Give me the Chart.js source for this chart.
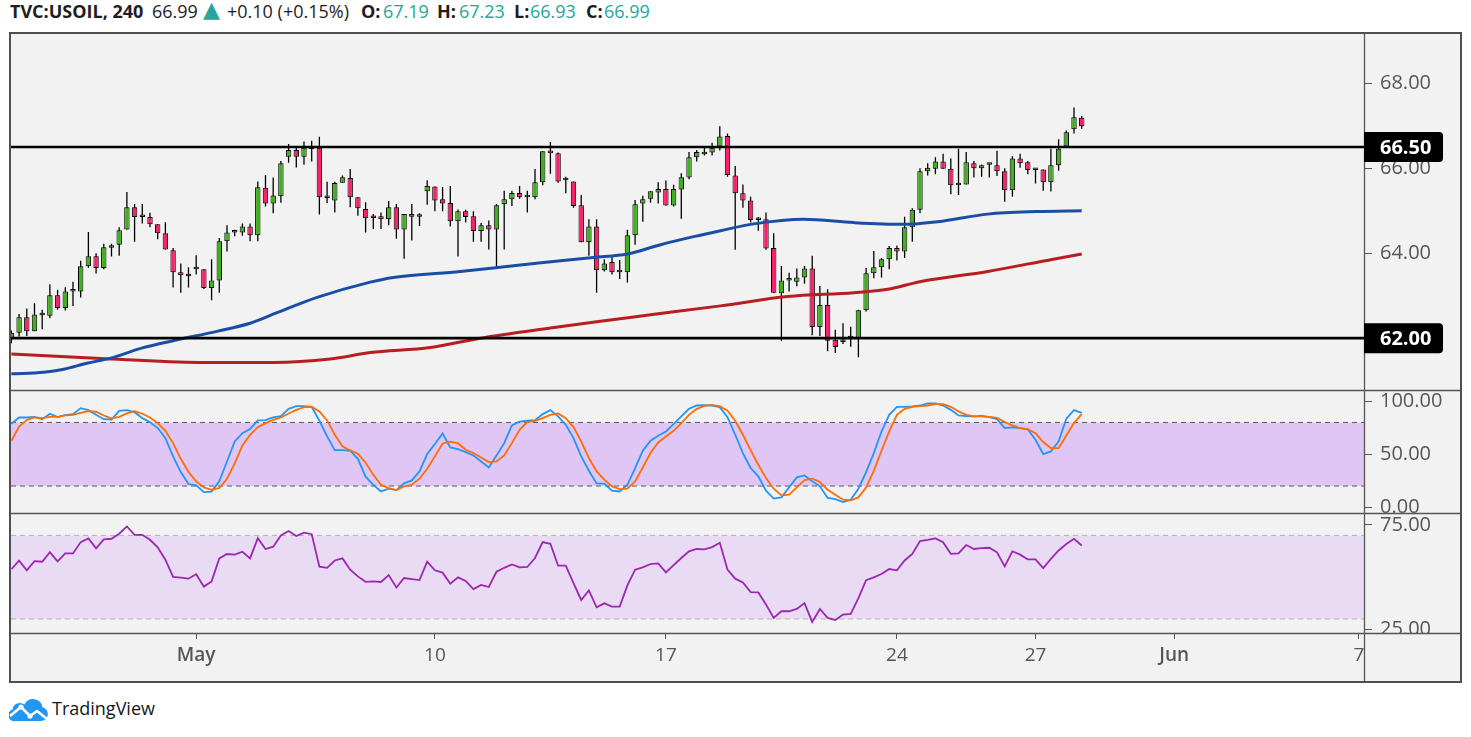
<!DOCTYPE html>
<html><head><meta charset="utf-8">
<script src="https://cdn.jsdelivr.net/npm/chart.js@4.4.1/dist/chart.umd.min.js"></script>
<style>
html,body{margin:0;padding:0;background:#fff;}
body{width:1471px;height:737px;position:relative;overflow:hidden;font-family:'Open Sans',sans-serif;}
.h{position:absolute;top:-1px;font-size:18px;line-height:24px;white-space:nowrap;color:#1e1e1e;}
.b{font-weight:700;}
.t{color:#26a69a;}
#frame{position:absolute;left:9px;top:32px;width:1449px;height:647px;border:2px solid #4f4f4f;background:#f2f2f2;}
#c{display:block;}
#logo{position:absolute;left:9px;top:697px;width:160px;height:26px;}
</style></head><body>
<div class="h b" style="left:10px">TVC:USOIL, 240</div>
<div class="h" style="left:152px">66.99</div>
<div class="h t" style="left:203px;top:-3px;font-size:22px;line-height:26px;font-family:'DejaVu Sans',sans-serif">▲</div>
<div class="h" style="left:227px">+0.10 (+0.15%)</div>
<div class="h b" style="left:361px">O:</div><div class="h t" style="left:383px">67.19</div>
<div class="h b" style="left:437px">H:</div><div class="h t" style="left:459px">67.23</div>
<div class="h b" style="left:514px">L:</div><div class="h t" style="left:530px">66.93</div>
<div class="h b" style="left:586px">C:</div><div class="h t" style="left:604px">66.99</div>
<div id="frame"><canvas id="c" width="1449" height="647"></canvas></div>
<div id="logo">
<svg width="40" height="24" viewBox="0 0 40 24" style="position:absolute;left:0;top:1px">
<path d="M7 23 H32 a7 7 0 0 0 1.5-13.8 A9.5 9.5 0 0 0 15.5 6.5 A7.5 7.5 0 0 0 3.5 11.5 A6 6 0 0 0 7 23 Z" fill="#2196f3"/>
<polyline points="1,18 12,9 21,18 28,13 38,21" fill="none" stroke="#fff" stroke-width="2.6" stroke-linejoin="round"/>
<circle cx="12" cy="9" r="2.6" fill="#fff"/><circle cx="21" cy="18" r="2.6" fill="#fff"/>
</svg>
<span style="position:absolute;left:43px;top:-2px;font-size:18px;line-height:26px;color:#131722;">TradingView</span>
</div>
<script>
// ---- data (4h candles, index 0..139) ----
const opens = [61.98,62.13,62.49,62.16,62.54,62.53,63.01,62.71,63.10,63.10,63.69,63.93,63.65,64.13,64.20,64.56,65.08,64.85,64.85,64.68,
64.47,64.07,63.55,63.47,63.62,63.62,63.18,63.36,64.28,64.49,64.49,64.63,64.42,65.54,65.17,65.34,66.27,66.43,66.27,66.46,
66.48,65.30,65.24,65.66,65.77,65.32,65.04,64.84,64.87,64.80,65.08,64.56,64.92,64.86,65.46,65.57,65.27,65.18,64.75,64.99,
64.87,64.52,64.66,64.56,65.15,65.27,65.42,65.32,65.32,65.67,66.42,66.35,65.72,65.69,65.13,64.26,64.63,63.60,63.79,63.55,
63.55,64.42,65.17,65.28,65.43,65.51,65.12,65.50,65.78,66.26,66.33,66.37,66.51,66.76,65.83,65.41,65.24,64.78,64.80,64.12,
63.06,63.36,63.33,63.43,63.64,62.26,62.78,61.96,61.91,62.00,62.01,62.66,63.53,63.67,63.86,64.12,64.04,64.61,65.02,65.93,
65.99,66.16,65.99,65.60,65.62,66.12,66.00,66.08,66.07,65.93,65.48,66.23,66.14,65.96,65.97,65.67,66.07,66.51,66.92,67.19];
const highs = [62.18,62.57,62.70,62.82,62.67,63.27,63.14,63.20,63.33,63.82,64.50,64.00,64.22,64.22,64.61,65.44,65.16,65.16,64.95,64.68,
64.73,64.12,63.76,63.67,63.95,63.62,63.86,64.36,64.66,64.55,64.70,64.70,65.69,65.84,65.78,66.17,66.57,66.51,66.63,66.65,
66.74,65.68,65.68,65.83,65.98,65.32,65.20,64.92,64.96,65.23,65.16,64.92,65.16,64.94,65.72,65.57,65.56,65.58,65.03,65.02,
64.99,64.71,64.77,65.16,65.47,65.47,65.58,65.47,65.98,66.40,66.62,66.37,65.80,65.69,65.37,64.80,64.80,63.86,63.91,63.84,
64.55,65.25,65.35,65.46,65.67,65.71,65.61,65.88,66.38,66.43,66.48,66.60,66.99,66.82,66.05,65.62,65.33,64.85,64.96,64.47,
63.70,63.54,63.64,63.70,63.94,63.23,63.15,62.20,62.35,62.27,62.67,63.65,64.05,63.89,64.17,64.18,64.86,65.06,66.00,66.12,
66.26,66.34,66.23,66.46,66.38,66.17,66.09,66.12,66.41,66.00,66.28,66.34,66.17,66.00,65.97,66.46,66.68,66.89,67.43,67.23];
const lows = [61.88,62.04,62.05,62.16,62.21,62.47,62.67,62.65,62.76,62.96,63.66,63.52,63.62,63.92,63.94,64.56,64.27,64.70,64.61,64.33,
64.09,63.19,63.07,63.19,63.50,63.16,62.89,63.07,64.04,64.40,64.41,64.28,64.28,65.10,64.94,65.19,66.13,66.02,66.08,66.16,
64.91,65.18,64.96,65.66,65.08,64.88,64.49,64.57,64.57,64.66,64.34,63.87,64.30,64.64,65.14,64.99,64.99,64.63,63.92,64.72,
64.27,64.27,64.09,63.67,64.09,65.11,65.28,64.96,65.27,65.60,65.87,65.66,65.41,65.07,64.26,63.94,63.07,63.57,63.50,63.39,
63.31,64.20,64.74,65.19,65.17,65.12,65.10,64.81,65.74,66.16,66.30,66.30,66.42,65.80,64.08,65.07,64.72,64.53,64.08,63.06,
61.94,63.10,63.22,63.28,62.07,62.05,61.69,61.65,61.86,61.80,61.55,62.63,63.41,63.43,63.62,63.83,63.89,64.27,64.94,65.83,
65.86,65.99,65.39,65.37,65.62,65.78,65.80,65.78,65.82,65.21,65.33,66.01,65.86,65.64,65.47,65.45,65.94,66.51,66.82,66.93];
const closes = [62.13,62.49,62.16,62.56,62.56,63.01,62.71,63.10,63.11,63.69,63.93,63.65,64.14,64.19,64.54,65.08,64.85,64.86,64.68,64.47,
64.09,63.55,63.48,63.46,63.63,63.18,63.36,64.28,64.49,64.50,64.63,64.42,65.55,65.17,65.36,66.12,66.43,66.27,66.48,66.45,
65.32,65.31,65.65,65.79,65.32,65.06,64.82,64.83,64.80,65.08,64.56,64.92,64.86,64.87,65.58,65.24,65.17,64.75,64.99,64.85,
64.52,64.66,64.56,65.13,65.27,65.42,65.32,65.33,65.67,66.40,66.35,65.69,65.73,65.11,64.26,64.63,63.60,63.76,63.55,63.56,
64.42,65.15,65.27,65.46,65.51,65.12,65.51,65.79,66.26,66.38,66.38,66.48,66.75,65.84,65.41,65.24,64.78,64.79,64.11,63.07,
63.36,63.37,63.43,63.64,62.26,62.78,61.94,61.79,61.97,62.01,62.66,63.53,63.67,63.86,64.12,64.04,64.61,65.02,65.93,66.01,
66.16,65.99,65.60,65.61,66.14,66.00,66.07,66.09,65.93,65.48,66.23,66.12,65.96,65.97,65.67,66.07,66.46,66.85,67.20,66.99];

// Stochastic %K / %D
const stochK = [78.7,84.7,84.7,85.3,83.1,88.2,85.0,86.9,87.9,93.5,91.6,87.2,83.1,82.8,91.0,91.6,89.7,84.1,80.3,74.7,
65.2,48.0,33.2,21.9,20.6,14.3,14.7,24.4,43.2,62.1,69.9,73.7,81.9,82.2,84.7,86.0,92.9,95.4,95.4,94.8,
81.6,66.8,53.9,53.9,53.3,45.7,28.8,21.2,14.9,17.5,16.2,22.5,25.3,33.8,50.2,59.6,69.6,56.4,54.8,52.0,
48.9,43.2,37.5,48.9,60.5,77.2,80.9,81.6,82.2,87.9,91.6,85.7,77.8,65.2,48.0,34.4,22.5,22.2,15.6,14.9,
21.2,37.0,53.3,62.7,67.4,71.5,78.4,85.7,92.9,96.0,96.3,96.0,94.5,85.0,68.4,51.1,37.0,29.1,15.6,8.1,
9.3,18.7,28.2,30.0,24.4,19.7,8.7,7.7,4.9,7.1,17.5,33.2,51.1,71.5,87.2,94.8,94.8,95.1,96.0,97.9,
97.9,96.0,91.9,86.6,86.0,85.7,86.3,85.0,83.1,74.7,75.3,74.7,73.4,63.7,50.2,52.7,62.1,83.5,91.6,89.1];
const stochD = [62.7,76.2,82.2,84.7,84.1,85.3,85.3,86.6,87.2,89.1,90.7,90.1,86.6,83.8,85.3,88.5,90.7,88.2,84.7,79.4,
72.1,60.5,45.7,33.2,24.4,18.7,16.5,18.1,26.9,41.4,58.3,68.4,75.6,79.4,82.5,84.7,88.5,91.9,94.5,94.8,
90.4,81.9,68.4,57.4,53.6,50.5,42.0,30.7,21.2,18.1,16.2,19.7,21.2,26.9,36.3,48.0,60.2,61.8,60.2,54.2,
51.1,47.0,42.6,43.2,48.9,60.5,73.1,80.3,81.6,84.1,87.2,88.5,84.1,75.6,62.1,46.4,33.8,26.0,19.7,17.1,
17.5,24.4,37.5,51.1,61.1,66.8,72.1,79.4,87.2,92.9,95.7,96.3,95.4,91.0,81.6,68.4,53.9,40.1,27.5,17.5,
11.2,11.8,18.7,25.6,26.9,23.8,16.5,11.8,7.1,6.5,9.3,18.7,34.4,53.3,71.5,87.2,92.9,94.8,95.4,96.0,
97.3,97.3,94.8,90.4,87.2,85.7,85.7,85.3,84.4,80.3,77.2,74.7,73.7,69.9,61.5,55.8,55.8,67.7,79.4,87.9];
// RSI
const rsi = [53.9,57.9,53.3,57.7,57.4,62.0,57.6,61.4,61.4,66.8,68.6,63.8,68.1,68.4,70.8,74.3,70.3,70.3,67.9,64.3,
58.4,50.2,49.8,49.3,51.4,45.5,48.0,59.0,61.1,60.8,62.2,59.0,68.7,63.5,64.6,70.0,72.1,69.7,71.3,70.6,
55.0,54.5,58.0,59.0,53.6,50.4,47.8,48.0,47.7,51.0,45.1,49.6,49.1,48.6,57.4,53.3,52.2,46.9,49.9,48.2,
44.3,46.3,45.3,52.6,54.5,56.1,54.7,54.9,59.2,66.8,66.0,55.5,55.5,47.2,39.1,43.7,35.6,37.5,35.9,35.9,
46.1,53.6,54.7,56.3,56.6,52.3,55.8,59.2,62.4,63.5,63.3,64.4,66.5,53.6,49.3,47.5,42.9,42.7,36.9,30.5,
33.7,33.7,34.8,37.6,28.6,34.8,30.5,29.5,32.1,32.4,40.0,48.6,49.9,51.5,53.9,53.3,58.0,61.1,67.3,67.9,
68.6,66.7,61.2,61.4,65.4,63.5,63.9,64.1,61.9,55.2,62.4,60.8,58.5,58.5,54.4,58.8,62.8,65.9,68.4,65.2];

// Moving averages read at sample positions (candle index, price)
const maFastIdx = [0,4.2,6.8,9.8,12.9,16.8,21.0,26.7,31.0,34.5,39.7,46.6,49.6,58.3,62.6,69.1,75.6,80.0,84.3,88.6,92.1,96.4,102.9,109.4,115.8,120.3,126.8,133.2,139];
const maFastVal = [61.16,61.20,61.27,61.41,61.53,61.76,61.94,62.16,62.35,62.60,62.96,63.32,63.43,63.57,63.65,63.78,63.90,63.98,64.20,64.39,64.53,64.69,64.80,64.72,64.68,64.74,64.92,64.98,65.00];
const maSlowIdx = [0,11.6,24.5,34.0,41.4,46.6,54.4,60.9,70.0,76.5,83.0,92.1,100.8,109.4,113.8,118.0,126.8,135.3,139];
const maSlowVal = [61.63,61.52,61.43,61.43,61.51,61.66,61.78,62.00,62.24,62.40,62.55,62.76,62.98,63.07,63.15,63.33,63.57,63.86,63.98];

const levels = [66.5, 62.0];
const stochBands = [80, 20];
const rsiBands = [70, 30];
const xTickIdx = [24, 55, 85, 115, 133, 151, 175];
const xTickLabels = ['May', '10', '17', '24', '27', 'Jun', '7'];
const priceTicks = [62, 64, 66, 68];
const stochTicks = [0, 50, 100];
const rsiTicks = [25, 75];

// ---- chart ----
const X_MIN = -0.05, X_MAX = 175.66;
const UP = '#41b01d', DOWN = '#fb1f6c';
const FONT = "'Open Sans', sans-serif";
const idx = opens.map((_, i) => i);
const hline = v => [{x: X_MIN, y: v}, {x: X_MAX, y: v}];
const series = arr => idx.map(i => ({x: i, y: arr[i]}));

const candleColor = c => closes[c.dataIndex] >= opens[c.dataIndex] ? UP : DOWN;

const datasets = [
  {type: 'bar', label: 'body', yAxisID: 'y', data: idx.map(i => ({x: i, y: [opens[i], closes[i]]})),
   backgroundColor: candleColor, borderColor: '#000', borderWidth: 1, borderSkipped: false,
   barThickness: 5.4, grouped: false, minBarLength: 2.5, inflateAmount: 0, order: 3},
  {type: 'bar', label: 'wick', yAxisID: 'y', data: idx.map(i => ({x: i, y: [lows[i], highs[i]]})),
   backgroundColor: '#000', borderWidth: 0, barThickness: 1.3, grouped: false, inflateAmount: 0, order: 4},
  {type: 'line', label: 'maFast', yAxisID: 'y', data: maFastIdx.map((x, i) => ({x, y: maFastVal[i]})),
   borderColor: '#1a4ea6', borderWidth: 3, pointRadius: 0, cubicInterpolationMode: 'monotone', fill: false, order: 2},
  {type: 'line', label: 'maSlow', yAxisID: 'y', data: maSlowIdx.map((x, i) => ({x, y: maSlowVal[i]})),
   borderColor: '#b81d1f', borderWidth: 3, pointRadius: 0, cubicInterpolationMode: 'monotone', fill: false, order: 2},
];
levels.forEach(v => datasets.push({type: 'line', label: 'level', yAxisID: 'y', data: hline(v),
  borderColor: '#000', borderWidth: 2.6, pointRadius: 0, fill: false, order: 0}));
stochBands.forEach((v, k) => datasets.push({type: 'line', label: 'sband', yAxisID: 'yS', data: hline(v),
  borderColor: '#5a5a5a', borderWidth: 1, borderDash: [5, 4], pointRadius: 0,
  fill: k === 0 ? false : '-1', backgroundColor: '#e0c6f4', order: 8}));
datasets.push({type: 'line', label: 'K', yAxisID: 'yS', data: series(stochK), borderColor: '#2196f3', borderWidth: 1.8, pointRadius: 0, tension: 0, fill: false, order: 1.5});
datasets.push({type: 'line', label: 'D', yAxisID: 'yS', data: series(stochD), borderColor: '#ff6d00', borderWidth: 1.8, pointRadius: 0, tension: 0, fill: false, order: 1});
rsiBands.forEach((v, k) => datasets.push({type: 'line', label: 'rband', yAxisID: 'yR', data: hline(v),
  borderColor: '#b4b4b4', borderWidth: 1, borderDash: [5, 4], pointRadius: 0,
  fill: k === 0 ? false : '-1', backgroundColor: '#e9dbf3', order: 8}));
datasets.push({type: 'line', label: 'RSI', yAxisID: 'yR', data: series(rsi), borderColor: '#9c27b0', borderWidth: 1.8, pointRadius: 0, tension: 0, fill: false, order: 1});

function yAxis(weight, min, max, ticks) {
  return {
    type: 'linear', position: 'right', stack: 'panes', stackWeight: weight, min, max, offset: false,
    grid: {display: true, drawOnChartArea: false, drawTicks: true, tickLength: 8, color: '#555', lineWidth: 1},
    border: {display: false},
    ticks: {autoSkip: false, padding: 8, color: '#555', font: {family: FONT, size: 20}, callback: v => Number(v).toFixed(2)},
    afterBuildTicks: s => { s.ticks = ticks.map(v => ({value: v})); },
    afterFit: s => { s.width = 96; s.paddingTop = 0; s.paddingBottom = 0; s.paddingLeft = 0; s.paddingRight = 0; }
  };
}

const decor = {
  id: 'decor',
  beforeDraw(chart) {
    ['yS', 'yR'].forEach(id => {
      const s = chart.scales[id];
      if (s && !s.__clip) {
        const orig = s.drawLabels;
        s.drawLabels = function (area) {
          const c = this.ctx; c.save(); c.beginPath();
          c.rect(this.left, this.top, this.right - this.left + 10, this.bottom - this.top); c.clip();
          orig.call(this, area); c.restore();
        };
        s.__clip = true;
      }
    });
  },
  afterDraw(chart) {
    const {ctx, chartArea: a, width, height} = chart;
    const sy = chart.scales.y;
    ctx.save();
    ctx.strokeStyle = '#555'; ctx.lineWidth = 1.3;
    ctx.beginPath();
    [chart.scales.yS.top, chart.scales.yR.top, a.bottom].forEach(yy => {
      const p = Math.round(yy) + 0.5; ctx.moveTo(0, p); ctx.lineTo(width, p);
    });
    const px = Math.round(a.right) + 0.5;
    ctx.moveTo(px, 0); ctx.lineTo(px, height);
    ctx.stroke();
    levels.forEach(v => {
      const yy = sy.getPixelForValue(v);
      const x0 = a.right, w = 79, h = 30;
      ctx.fillStyle = '#000';
      ctx.beginPath();
      ctx.roundRect(x0, yy - h / 2, w, h, [0, 4, 4, 0]);
      ctx.fill();
      ctx.fillStyle = '#fff';
      ctx.font = "bold 20px " + FONT;
      ctx.textBaseline = 'middle'; ctx.textAlign = 'left';
      ctx.fillText(v.toFixed(2), x0 + 16, yy + 1);
    });
    ctx.restore();
  }
};

new Chart(document.getElementById('c'), {
  type: 'line',
  data: {datasets},
  options: {
    responsive: false, maintainAspectRatio: false, animation: false, events: [],
    layout: {padding: 0, autoPadding: false},
    plugins: {legend: {display: false}, tooltip: {enabled: false}},
    scales: {
      x: {
        type: 'linear', position: 'bottom', min: X_MIN, max: X_MAX, offset: false,
        grid: {display: true, offset: false, drawOnChartArea: false, drawTicks: true, tickLength: 6, color: '#555', lineWidth: 1},
        border: {display: false},
        ticks: {autoSkip: false, maxRotation: 0, minRotation: 0, padding: 5, color: '#555',
          font: c => ({family: FONT, size: 19, weight: /[A-Za-z]/.test(xTickLabels[c.index] || '') ? '600' : '400'}),
          callback: (v, i) => xTickLabels[i]},
        afterBuildTicks: s => { s.ticks = xTickIdx.map(v => ({value: v})); },
        afterFit: s => { s.height = 48; s.paddingLeft = 0; s.paddingRight = 0; s.paddingTop = 0; s.paddingBottom = 0; }
      },
      y: yAxis(356, 60.784, 69.16, priceTicks),
      yS: yAxis(123.3, -5.5, 110.8, stochTicks),
      yR: yAxis(120, 23.3, 80.7, rsiTicks)
    }
  },
  plugins: [decor]
});
</script>
</body></html>
